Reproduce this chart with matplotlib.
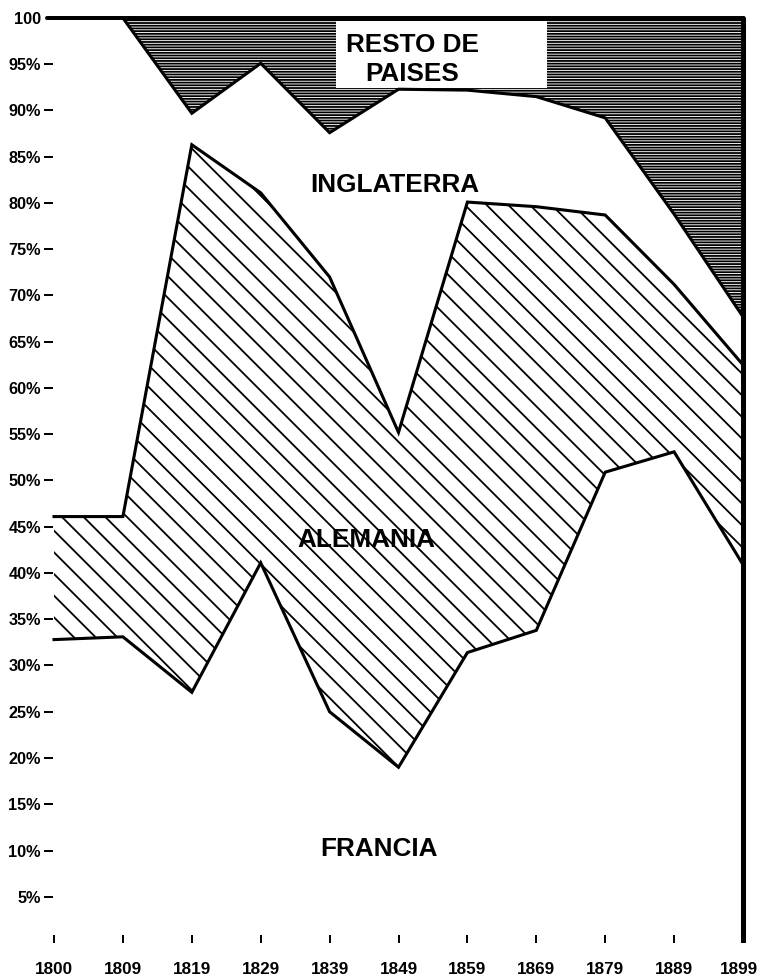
import numpy as np
import matplotlib
matplotlib.use('Agg')
import matplotlib.pyplot as plt
import matplotlib.transforms as mtransforms
from matplotlib.patches import Rectangle

# Datos (porcentaje de cada país, por año)
anios = ['1800', '1809', '1819', '1829', '1839', '1849', '1859', '1869', '1879', '1889', '1899']
francia = [32.8, 33.1, 27.1, 41.1, 25.0, 19.0, 31.4, 33.8, 50.9, 53.1, 40.9]
alemania = [13.3, 13.0, 59.2, 40.0, 47.0, 36.2, 48.7, 45.8, 27.8, 18.1, 21.6]
inglaterra = [53.9, 53.9, 3.4, 14.0, 15.6, 37.1, 12.1, 11.9, 10.5, 7.6, 5.2]
resto = [0.0, 0.0, 10.3, 4.9, 12.4, 7.7, 7.8, 8.5, 10.8, 21.2, 32.3]

marcas_y = list(range(5, 101, 5))

x = np.arange(len(anios))
tope_fr = np.array(francia)
tope_al = tope_fr + np.array(alemania)
tope_in = tope_al + np.array(inglaterra)
total = tope_in + np.array(resto)

plt.rcParams['font.family'] = ['Liberation Sans', 'DejaVu Sans']
plt.rcParams['font.weight'] = 'bold'
plt.rcParams['hatch.linewidth'] = 1.0

fig = plt.figure(figsize=(761 / 130, 979 / 130), dpi=130)
ax = fig.add_axes([0.0574, 0.03677, 0.928, 0.9543])
ax.set_xlim(-0.15, 10.1)
ax.set_ylim(0, 101)

# Zonas rayadas
ax.fill_between(x, tope_fr, tope_al, facecolor='white', edgecolor='black',
                hatch='\\\\', linewidth=0, zorder=1)
ax.fill_between(x, tope_in, total, facecolor='white', edgecolor='black',
                hatch='-' * 8, linewidth=0, zorder=1)

# Recuadro blanco para el texto de "resto de países"
ax.add_patch(Rectangle((4.1, 92.4), 3.05, 7.3, facecolor='white',
                       edgecolor='none', zorder=2))

# Líneas de frontera
for serie in (tope_fr, tope_al, tope_in):
    ax.plot(x, serie, color='black', linewidth=1.7, solid_joinstyle='miter', zorder=3)
ax.hlines(100, -0.1, x[-1], color='black', linewidth=2.2, capstyle='round', zorder=4)
ax.vlines(x[-1], 0, 100, color='black', linewidth=2.8, capstyle='round', zorder=4)

# Etiquetas de países
estilo = dict(ha='center', va='center', fontsize=14.5, fontweight='bold', zorder=5)
ax.text(5.2, 95.5, 'RESTO DE\nPAISES', linespacing=1.3, **estilo)
ax.text(4.95, 81.9, 'INGLATERRA', **estilo)
ax.text(4.54, 43.6, 'ALEMANIA', **estilo)
ax.text(4.71, 10.2, 'FRANCIA', **estilo)

# Ejes
for lado in ['top', 'right', 'bottom', 'left']:
    ax.spines[lado].set_visible(False)
ax.set_xticks(x)
ax.set_xticklabels(anios, fontsize=9.5, fontweight='bold')
ax.tick_params(axis='x', direction='in', length=4.5, width=1.1, pad=10.5)
ultima = ax.get_xticklabels()[-1]
ultima.set_transform(ultima.get_transform() +
                     mtransforms.ScaledTranslation(-4 / 130, 0, fig.dpi_scale_trans))
ax.set_yticks(marcas_y)
ax.set_yticklabels([f'{v}%' if v < 100 else str(v) for v in marcas_y],
                   fontsize=9, fontweight='bold')
ax.tick_params(axis='y', direction='in', length=5, width=1.1, pad=1.5)
ax.yaxis.get_major_ticks()[-1].tick1line.set_visible(False)

fig.savefig('out.png', dpi=130, facecolor='white')
